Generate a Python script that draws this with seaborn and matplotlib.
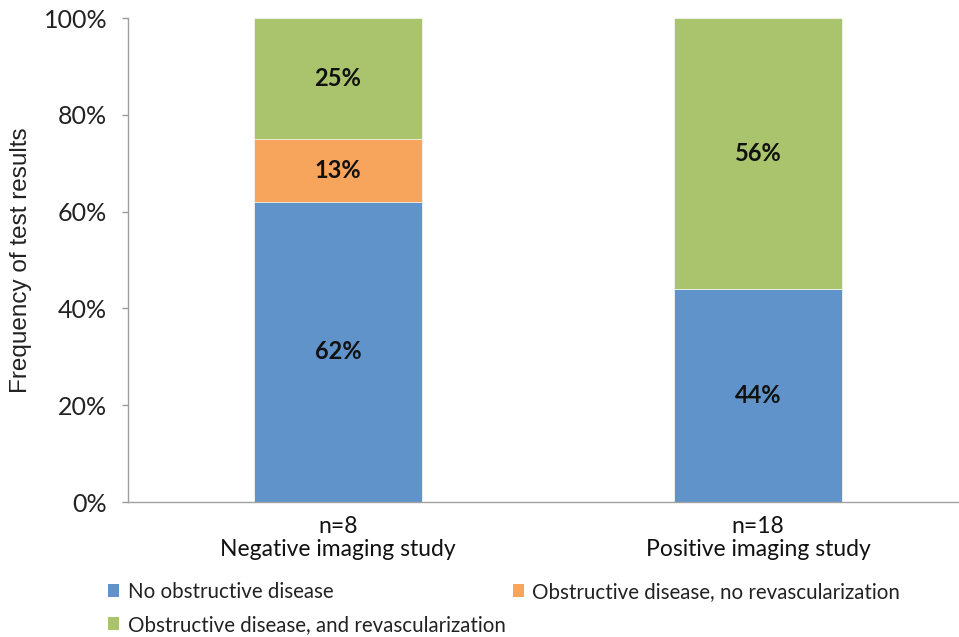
import numpy as np
import pandas as pd
import matplotlib
matplotlib.use("Agg")
import matplotlib.pyplot as plt
from matplotlib.patches import Patch
import seaborn as sns

# Data
groups = ["n=8\nNegative imaging study", "n=18\nPositive imaging study"]
series = ["No obstructive disease",
          "Obstructive disease, no revascularization",
          "Obstructive disease, and revascularization"]
no_obstructive = [62, 44]
obstructive_no_revasc = [13, 0]
obstructive_revasc = [25, 56]
colors = ["#5f93c9", "#f7a45c", "#a9c46c"]

sns.set_theme(style="white")
plt.rcParams["font.family"] = ["Lato", "DejaVu Sans"]

layers = [no_obstructive, obstructive_no_revasc, obstructive_revasc]
cum = np.cumsum(np.array(layers), axis=0)

fig = plt.figure(figsize=(9.59, 6.37), dpi=100)
ax = fig.add_axes([128 / 959, 1 - 502 / 637, (968 - 128) / 959, (502 - 18) / 637])

# Draw stacked bars from the top layer down so each segment shows its band
for i in reversed(range(len(layers))):
    df = pd.DataFrame({"group": groups, "value": cum[i]})
    sns.barplot(data=df, x="group", y="value", color=colors[i], width=0.4,
                saturation=1, ax=ax, edgecolor="#f4f4ee", linewidth=0.6)

# Segment labels
for i, vals in enumerate(layers):
    for j, v in enumerate(vals):
        if v <= 0:
            continue
        center = cum[i][j] - v / 2
        ax.text(j, center, f"{v}%", ha="center", va="center",
                fontsize=17, fontweight="bold", color="#111111")

ax.set_ylim(0, 100)
ax.set_xlim(-0.5, 1.5)
ax.set_yticks(np.arange(0, 101, 20))
ax.set_yticklabels([f"{t}%" for t in range(0, 101, 20)], fontsize=18, color="#222222")
ax.set_xticks([0, 1])
ax.set_xticklabels(groups, fontsize=16.5, color="#111111", linespacing=1.15)
ax.set_xticks([0.5], minor=True)
ax.tick_params(axis="x", which="major", length=0, pad=10)
ax.tick_params(axis="x", which="minor", length=4, color="#999999", width=1, direction="out")
ax.tick_params(axis="y", length=4, color="#999999", width=1, direction="out", pad=11, left=True)
ax.set_xlabel("")
ax.set_ylabel("Frequency of test results", fontsize=17.5, color="#222222",
              family=["Liberation Sans", "DejaVu Sans"], labelpad=8)

for s in ["top", "right"]:
    ax.spines[s].set_visible(False)
for s in ["left", "bottom"]:
    ax.spines[s].set_color("#a0a0a0")
    ax.spines[s].set_linewidth(1)

# Legend filled column-wise: blue and green in the first column, orange in the second
order = [0, 2, 1]
handles = [Patch(facecolor=colors[k], edgecolor="none") for k in order]
labels = [series[k] for k in order]
fig.legend(handles, labels, loc="upper left", bbox_to_anchor=(108 / 959, 1 - 582 / 637),
           ncol=2, frameon=False, fontsize=14.8, handlelength=0.55, handleheight=0.6,
           handletextpad=0.4, columnspacing=0.35, labelspacing=0.62,
           labelcolor="#222222", borderaxespad=0, borderpad=0)

fig.savefig("out.png", dpi=100, facecolor="white")
